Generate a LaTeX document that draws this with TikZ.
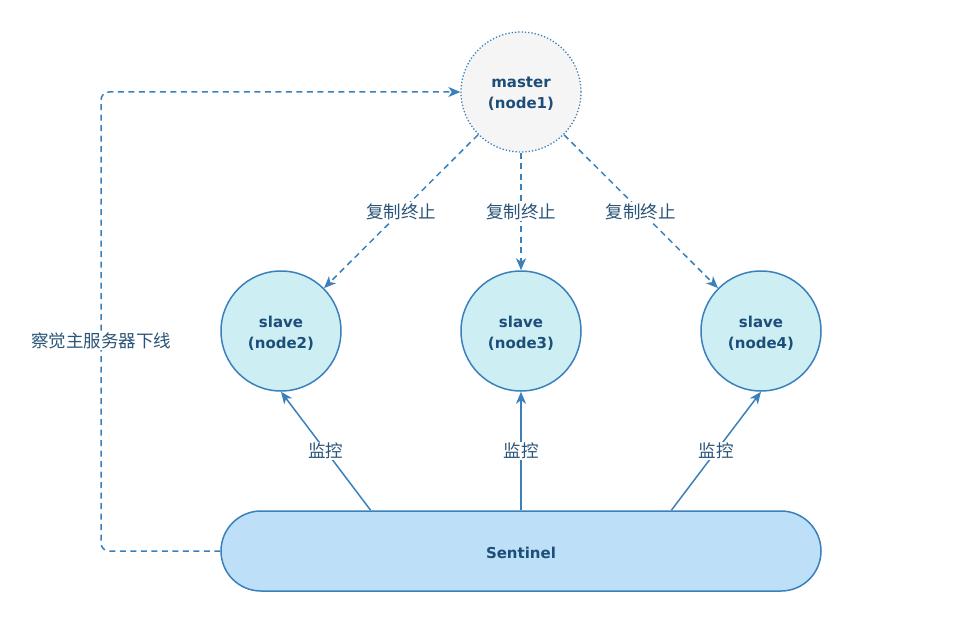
\documentclass[tikz,border=0pt]{standalone}
\usepackage{fontspec}
\setmainfont{DejaVu Sans}
\newfontfamily\cjk{Noto Sans CJK SC}
\usetikzlibrary{arrows.meta,calc}
\definecolor{edge}{HTML}{3A80BB}
\definecolor{txt}{HTML}{1D4E79}
\definecolor{lbl}{HTML}{2A5478}
\definecolor{masterfill}{HTML}{F5F5F5}
\definecolor{slavefill}{HTML}{CDEFF4}
\definecolor{sentfill}{HTML}{BDE0F8}
\tikzset{
  nodetext/.style={font=\fontsize{15}{21}\selectfont\bfseries, text=txt, align=center},
  mastercirc/.style={circle, minimum size=120pt, inner sep=0pt, draw=edge, line width=1.3pt, dotted, fill=masterfill, nodetext},
  slavecirc/.style={circle, minimum size=120pt, inner sep=0pt, draw=edge, line width=1.5pt, fill=slavefill, nodetext},
  sentbox/.style={rounded corners=40pt, minimum width=600pt, minimum height=80pt, inner sep=0pt, draw=edge, line width=1.5pt, fill=sentfill, nodetext},
  tip/.style={-{Stealth[length=12pt,width=10pt,inset=3.5pt]}},
  dashline/.style={draw=edge, line width=1.5pt, dash pattern=on 6pt off 4.5pt, tip},
  solidline/.style={draw=edge, line width=1.5pt, tip},
  lab/.style={font=\cjk\fontsize{17.5}{20}\selectfont, text=lbl, fill=white, inner sep=1pt}
}
\begin{document}
\begin{tikzpicture}[x=1pt,y=-1pt]
\useasboundingbox (0,0) rectangle (980,623);
\node[mastercirc] (m) at (521,92) {};
\node[slavecirc] (s2) at (281,331) {};
\node[slavecirc] (s3) at (521,331) {};
\node[slavecirc] (s4) at (761,331) {};
\node[sentbox] (sen) at (521,551) {};
\node[nodetext] (mt) at (521,94) {master\\(node1)};
\node[nodetext] (s2t) at (281,333) {slave\\(node2)};
\node[nodetext] (s3t) at (521,333) {slave\\(node3)};
\node[nodetext] (s4t) at (761,333) {slave\\(node4)};
\node[nodetext] (sent) at (521,553) {Sentinel};

\coordinate (a2) at ($(sen.north west)!0.25!(sen.north east)$);
\coordinate (a4) at ($(sen.north west)!0.75!(sen.north east)$);

\draw[dashline] (m) -- (s2) node[pos=0.5, lab] {复制终止};
\draw[dashline] (m) -- (s3) node[pos=0.5, lab] {复制终止};
\draw[dashline] (m) -- (s4) node[pos=0.5, lab] {复制终止};

\draw[solidline] (a2) -- (s2.south) node[pos=0.5, lab] {监控};
\draw[solidline] (sen.north) -- (s3.south) node[pos=0.5, lab] {监控};
\draw[solidline] (a4) -- (s4.south) node[pos=0.5, lab] {监控};

\coordinate (c1) at (101,551);
\coordinate (c2) at (101,92);
\draw[dashline, rounded corners=8pt] (sen.west) -- (c1) -- (c2) -- (m.west);
\node[lab] (lbl) at (101,341) {察觉主服务器下线};
\end{tikzpicture}
\end{document}
